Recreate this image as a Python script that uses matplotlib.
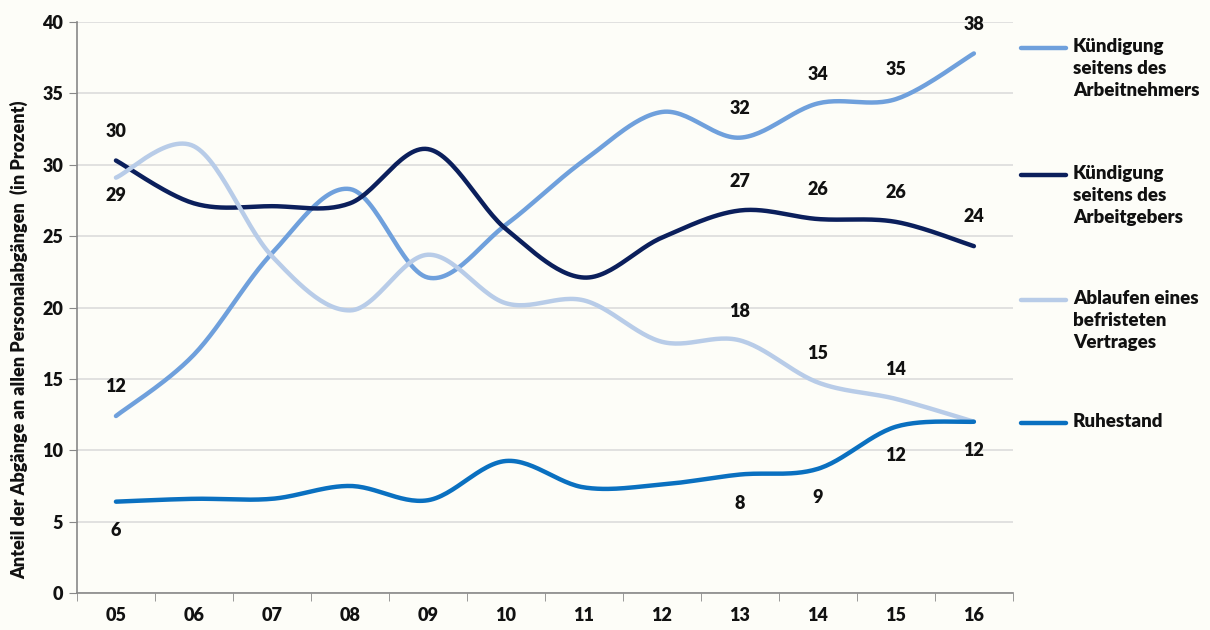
import numpy as np
import matplotlib.pyplot as plt
from matplotlib.lines import Line2D

years = ["05", "06", "07", "08", "09", "10", "11", "12", "13", "14", "15", "16"]

arbeitnehmer = [12.4, 16.7, 23.8, 28.3, 22.1, 25.8, 30.3, 33.7, 31.9, 34.3, 34.6, 37.8]
arbeitgeber = [30.3, 27.3, 27.1, 27.3, 31.1, 25.5, 22.1, 24.9, 26.8, 26.2, 26.0, 24.3]
befristet = [29.1, 31.3, 23.6, 19.8, 23.7, 20.3, 20.5, 17.6, 17.7, 14.75, 13.6, 12.0]
ruhestand = [6.4, 6.6, 6.6, 7.5, 6.5, 9.25, 7.4, 7.6, 8.3, 8.7, 11.65, 12.0]

# which points get a value label: index -> +1 above / -1 below
labels_an = {0: 1, 8: 1, 9: 1, 10: 1, 11: 1}
labels_ag = {0: 1, 8: 1, 9: 1, 10: 1, 11: 1}
labels_bf = {0: -1, 8: 1, 9: 1, 10: 1}
labels_rs = {0: -1, 8: -1, 9: -1, 10: -1, 11: -1}

series = [
    ("Kündigung\nseitens des\nArbeitnehmers", arbeitnehmer, "#6fa0dc", labels_an),
    ("Kündigung\nseitens des\nArbeitgebers", arbeitgeber, "#0b1f5c", labels_ag),
    ("Ablaufen eines\nbefristeten\nVertrages", befristet, "#b8cce8", labels_bf),
    ("Ruhestand", ruhestand, "#0a70c0", labels_rs),
]

FONT = ["Lato", "DejaVu Sans"]
BG = "#fdfdf8"
TXT = "#111111"
W = "heavy"


def smooth(xs, ys, n=30):
    # Catmull-Rom style bezier, like the spreadsheet smoothed line
    xs = np.asarray(xs, float)
    ys = np.asarray(ys, float)
    px = np.concatenate([[xs[0]], xs, [xs[-1]]])
    py = np.concatenate([[ys[0]], ys, [ys[-1]]])
    ox, oy = [], []
    t = np.linspace(0, 1, n)
    for i in range(1, len(px) - 2):
        p0 = np.array([px[i], py[i]])
        p3 = np.array([px[i + 1], py[i + 1]])
        c1 = p0 + (p3 - np.array([px[i - 1], py[i - 1]])) / 6
        c2 = p3 - (np.array([px[i + 2], py[i + 2]]) - p0) / 6
        b = ((1 - t) ** 3)[:, None] * p0 + (3 * (1 - t) ** 2 * t)[:, None] * c1 \
            + (3 * (1 - t) * t ** 2)[:, None] * c2 + (t ** 3)[:, None] * p3
        ox.extend(b[:, 0])
        oy.extend(b[:, 1])
    return ox, oy


plt.rcParams["font.family"] = FONT
plt.rcParams["font.weight"] = W

fig = plt.figure(figsize=(12.1, 6.3), dpi=100, facecolor=BG)
ax = fig.add_axes([0.0636, 0.0587, 0.7735, 0.9063], facecolor=BG)

x = np.arange(len(years))

for name, vals, color, labs in series:
    sx, sy = smooth(x, vals)
    ax.plot(sx, sy, color=color, lw=3.2, solid_capstyle="round", zorder=3)
    for i, pos in labs.items():
        off = 21 if pos > 0 else -21
        if name.startswith("Ablaufen") and i == 0:
            off = -13
        ax.annotate(f"{round(vals[i])}", (x[i], vals[i]), xytext=(0, off),
                    textcoords="offset points", ha="center", va="center",
                    fontsize=13, fontweight=W, color=TXT)

ax.set_xlim(-0.5, len(years) - 0.5)
ax.set_ylim(0, 40)
ax.set_yticks(range(0, 41, 5))
ax.set_xticks(x)
ax.set_xticklabels(years)
ax.set_xticks(np.arange(-0.5, len(years), 1), minor=True)
ax.tick_params(axis="x", which="major", length=0, pad=10, labelsize=13)
ax.tick_params(axis="x", which="minor", length=6, color="#888888", direction="out")
ax.tick_params(axis="y", length=6, color="#888888", labelsize=13, pad=4)
for lab in ax.get_xticklabels() + ax.get_yticklabels():
    lab.set_fontweight(W)
    lab.set_color(TXT)

ax.grid(axis="y", color="#dcdcdc", lw=1.2)
ax.set_axisbelow(True)
for s in ["top", "right"]:
    ax.spines[s].set_visible(False)
ax.spines["left"].set_color("#888888")
ax.spines["bottom"].set_color("#888888")
ax.spines["left"].set_linewidth(1.2)
ax.spines["bottom"].set_linewidth(1.2)

ax.set_ylabel("Anteil der Abgänge an allen Personalabgängen  (in Prozent)",
              fontsize=13, fontweight=W, color=TXT)
ax.yaxis.set_label_coords(-0.052, 0.443)

# legend drawn by hand so the line sits on the first text line
leg_y = [48, 175, 300, 423]
for (name, vals, color, labs), yy in zip(series, leg_y):
    yf = 1 - yy / 630
    fig.add_artist(Line2D([1021 / 1210, 1066 / 1210], [yf, yf], color=color,
                          lw=3.2, transform=fig.transFigure, solid_capstyle="round"))
    fig.text(1073 / 1210, yf + 10 / 630, name, ha="left", va="top",
             fontsize=13.5, fontweight=W, color=TXT, linespacing=1.35)

fig.savefig("out.png", dpi=100, facecolor=BG)
